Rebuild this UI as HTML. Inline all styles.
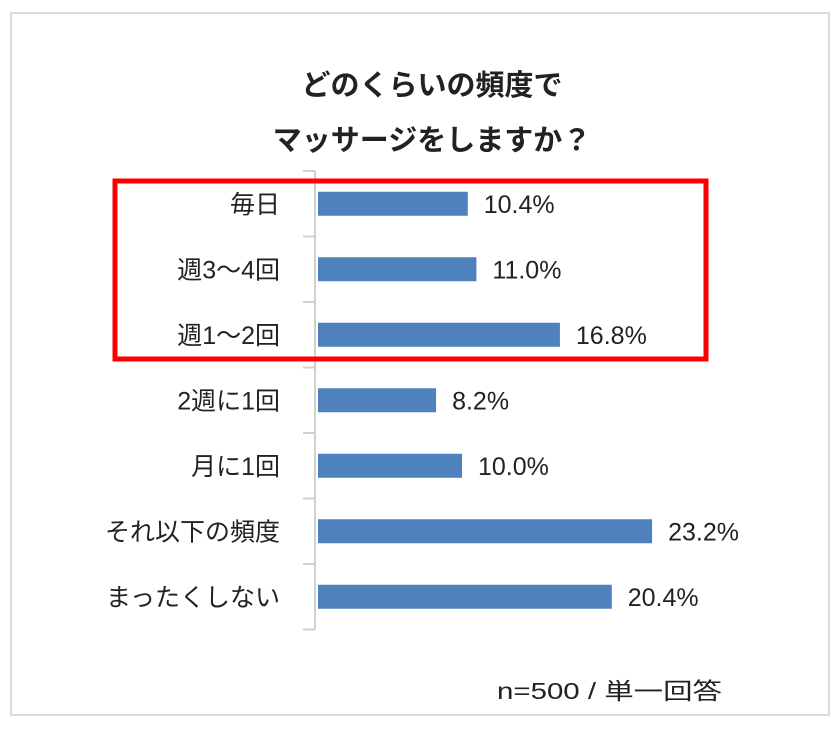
<!DOCTYPE html>
<html><head><meta charset="utf-8"><style>
body{margin:0;background:#fff;width:840px;height:729px;overflow:hidden}
svg text{font-family:"Liberation Sans","Noto Sans CJK JP",sans-serif}
</style></head><body>
<svg width="840" height="729">
<rect x="11" y="13" width="818" height="702" fill="#fff" stroke="#d9d9d9" stroke-width="2"/>
<text x="432" y="95" text-anchor="middle" font-size="29" font-weight="bold" fill="#222">どのくらいの頻度で</text>
<text x="432" y="150" text-anchor="middle" font-size="29" font-weight="bold" fill="#222">マッサージをしますか？</text>
<g id="plot"></g>
<rect x="115" y="181" width="591" height="178" fill="none" stroke="#ff0000" stroke-width="5"/>
<text x="497" y="699" font-size="23" textLength="225" lengthAdjust="spacingAndGlyphs" fill="#222">n=500 / 単一回答</text>
</svg>
<script>
const categories=["毎日","週3～4回","週1～2回","2週に1回","月に1回","それ以下の頻度","まったくしない"];
const values=[10.4,11.0,16.8,8.2,10.0,23.2,20.4];
const labels=["10.4%","11.0%","16.8%","8.2%","10.0%","23.2%","20.4%"];
const NS="http://www.w3.org/2000/svg";
const plotG=document.getElementById('plot');
const x0=318,pxPer=14.4,y0=171,step=65.5,bh=24;
const xs=v=>x0+v*pxPer;
const yc=i=>y0+step*(i+0.5);
function mk(t,a){const e=document.createElementNS(NS,t);for(const k in a)e.setAttribute(k,a[k]);plotG.appendChild(e);return e;}
const ax=mk('line',{x1:315,y1:y0,x2:315,y2:y0+step*categories.length,stroke:'#d0d0d0','stroke-width':2});


for(let i=0;i<=categories.length;i++){
 const t=mk('line',{x1:303,x2:315,y1:y0+step*i,y2:y0+step*i,stroke:'#d0d0d0','stroke-width':2});
 
 
}
categories.forEach((c,i)=>{
 const y=yc(i);
 const b=mk('rect',{x:x0,y:y-bh/2,width:xs(values[i])-x0,height:bh,fill:'#4f81bd'});
 
 
 const l=mk('text',{x:280,y:y+9,'text-anchor':'end','font-size':25,fill:'#222'});
 l.textContent=c;
 
 
 const v=mk('text',{x:xs(values[i])+16,y:y+9,'font-size':25,fill:'#222'});
 v.textContent=labels[i];
 
 
});
</script>
</body></html>
